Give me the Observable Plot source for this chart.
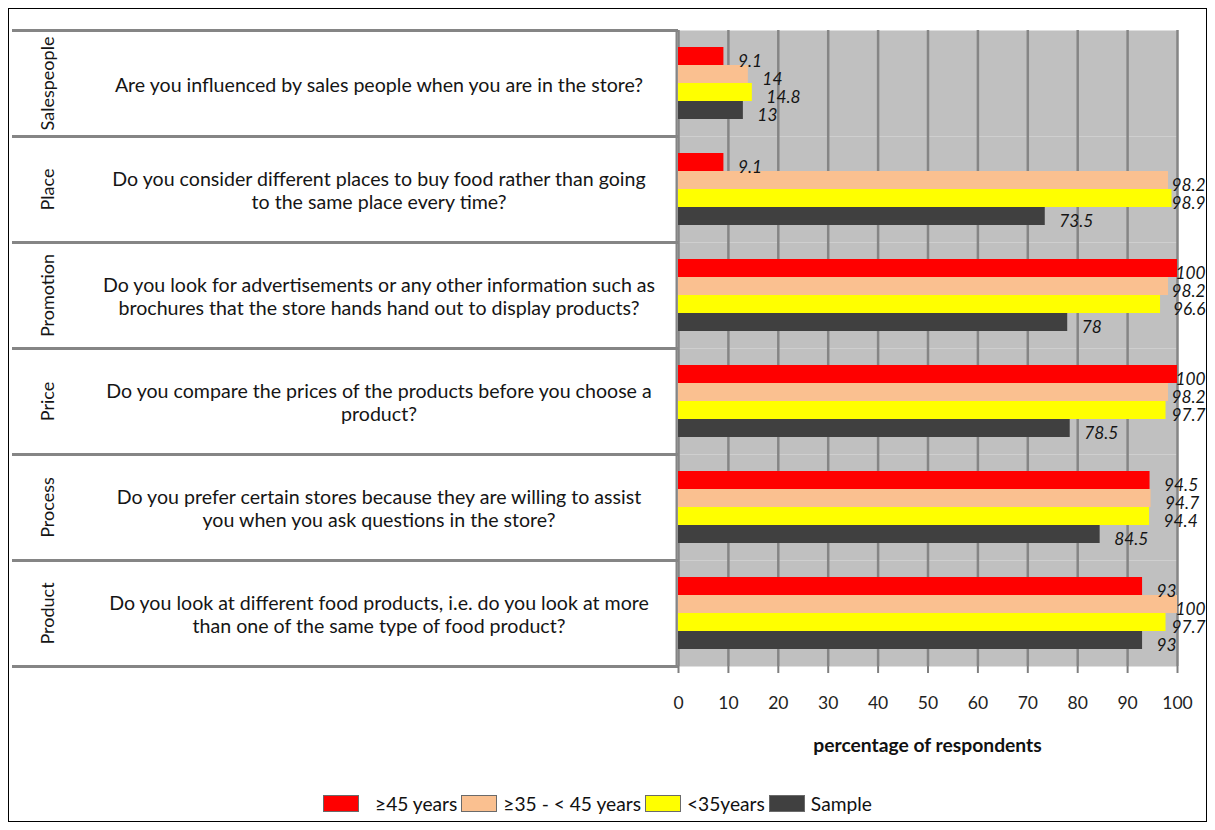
<!DOCTYPE html>
<html><head><meta charset="utf-8">
<script src="https://cdn.jsdelivr.net/npm/d3@7"></script>
<script src="https://cdn.jsdelivr.net/npm/@observablehq/plot@0.6"></script>
<style>
body{margin:0;background:#fff;font-family:Lato,sans-serif;}
#wrap{position:relative;width:1215px;height:830px;overflow:hidden;}
#border{position:absolute;left:8px;top:8px;width:1199px;height:814px;border:1px solid #000;box-sizing:border-box;}
#chart{position:absolute;left:0;top:0;}
#xtitle{position:absolute;top:733px;left:678px;width:499px;text-align:center;font-weight:bold;font-size:19.3px;color:#111;}
#legend{position:absolute;top:791px;left:323px;display:flex;align-items:center;font-size:19.2px;color:#111;white-space:nowrap;height:24px;}
#legend .sw{width:34px;height:15px;border:1px solid #6a6a6a;margin-right:6px;}
#legend .lb{margin-right:4px;}
</style>
</head><body>
<div id="wrap">
  <div id="border"></div>
  <div id="chart"></div>
  <div id="xtitle">percentage of respondents</div>
  <div id="legend"></div>
</div>
<script>
const categories = ["Salespeople", "Place", "Promotion", "Price", "Process", "Product"];
const questions = [
  "Are you influenced by sales people when you are in the store?",
  "Do you consider different places to buy food rather than going\nto the same place every time?",
  "Do you look for advertisements or any other information such as\nbrochures that the store hands hand out to display products?",
  "Do you compare the prices of the products before you choose a\nproduct?",
  "Do you prefer certain stores because they are willing to assist\nyou when you ask questions in the store?",
  "Do you look at different food products, i.e. do you look at more\nthan one of the same type of food product?"
];
const seriesNames = ["≥45 years", "≥35 - < 45 years", "<35years", "Sample"];
const seriesColors = ["#ff0000", "#fac090", "#ffff00", "#404040"];
const ge45 = [9.1, 9.1, 100, 100, 94.5, 93];
const ge35lt45 = [14, 98.2, 98.2, 98.2, 94.7, 100];
const lt35 = [14.8, 98.9, 96.6, 97.7, 94.4, 97.7];
const sample = [13, 73.5, 78, 78.5, 84.5, 93];
const xTicks = [0, 10, 20, 30, 40, 50, 60, 70, 80, 90, 100];

const seriesValues = [ge45, ge35lt45, lt35, sample];
const rows = categories.flatMap((c, i) =>
  seriesNames.map((s, j) => ({category: c, series: s, value: seriesValues[j][i]})));
const tableRows = categories.map((c, i) => ({category: c, question: questions[i]}));

// labels that would run past the chart's right edge are pushed back inside it (as Excel does)
const nearEnd = d => d.value > 96;
const labelStyle = {fontStyle: "italic", fontSize: 17.3, fill: "#151515", dy: 5};

const lineColor = "#858585";
const chart = Plot.plot({
  width: 1215,
  height: 770,
  marginLeft: 678,
  marginRight: 38,
  marginTop: 29,
  marginBottom: 104,
  style: {fontFamily: "Lato, sans-serif", fontSize: "18px", background: "none", overflow: "visible"},
  x: {domain: [0, 100], axis: null},
  y: {domain: seriesNames, paddingInner: 0, paddingOuter: 0.8, axis: null},
  fy: {domain: categories, padding: 0, axis: null},
  color: {domain: seriesNames, range: seriesColors},
  marks: [
    Plot.frame({fill: "#c0c0c0", stroke: null}),
    Plot.gridX(xTicks, {stroke: "#858585", strokeOpacity: 1, strokeWidth: 2.5}),
    Plot.barX(rows, {fy: "category", y: "series", x: "value", fill: "series"}),
    Plot.text(rows.filter(d => !nearEnd(d)), {
      fy: "category", y: "series", x: "value",
      text: d => String(d.value), dx: 14, textAnchor: "start", ...labelStyle
    }),
    Plot.text(rows.filter(nearEnd), {
      fy: "category", y: "series", frameAnchor: "right",
      text: d => String(d.value), dx: 28, textAnchor: "end", ...labelStyle
    }),
    Plot.frame({anchor: "top", insetLeft: -665, insetRight: 501, stroke: lineColor, strokeWidth: 3}),
    Plot.frame({anchor: "bottom", insetLeft: -665, insetRight: 501, stroke: lineColor, strokeWidth: 3}),
    Plot.frame({anchor: "left", insetLeft: -2, stroke: lineColor, strokeWidth: 2}),
    Plot.text(tableRows, {
      fy: "category", text: "question", frameAnchor: "middle", dx: -549, dy: 1,
      lineHeight: 1.14, fontSize: 19.6, fill: "#151515"
    }),
    Plot.text(tableRows, {
      fy: "category", text: "category", frameAnchor: "middle", dx: -880,
      rotate: -90, fontSize: 18, fill: "#151515"
    }),
    Plot.axisX(xTicks, {
      anchor: "bottom", tickSize: 7, tickPadding: 23, stroke: "#808080", strokeWidth: 2,
      fill: "#222", fontSize: 17.5, label: null
    })
  ]
});
document.getElementById("chart").appendChild(chart);

const legend = document.getElementById("legend");
seriesNames.forEach((s, i) => {
  const sw = document.createElement("span");
  sw.className = "sw";
  sw.style.background = seriesColors[i];
  if (i === 0) sw.style.marginRight = "16px";
  const lb = document.createElement("span");
  lb.className = "lb";
  lb.textContent = s;
  legend.appendChild(sw);
  legend.appendChild(lb);
});
</script>
</body></html>
